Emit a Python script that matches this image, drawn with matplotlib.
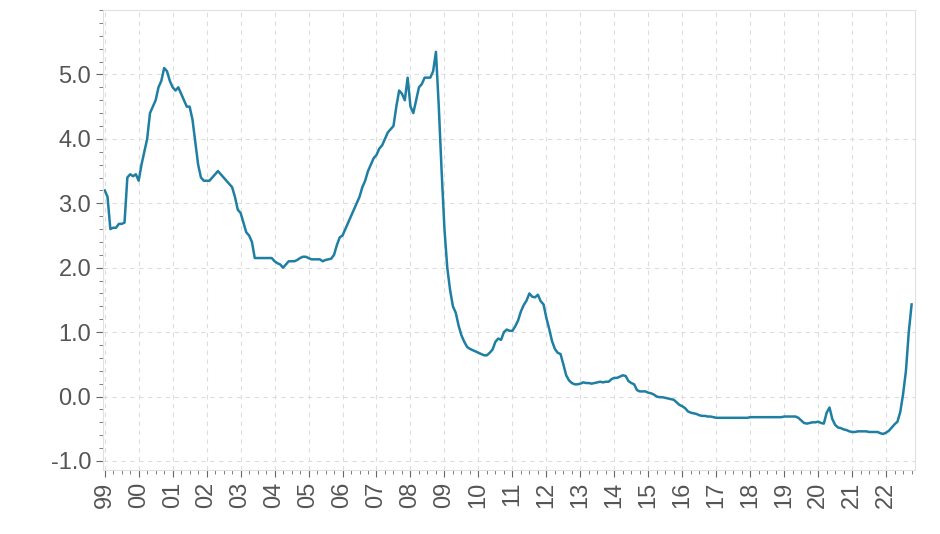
import matplotlib
matplotlib.use("Agg")
import matplotlib.pyplot as plt
import numpy as np
from matplotlib.ticker import MultipleLocator

plt.rcParams['font.family'] = ['Liberation Sans', 'DejaVu Sans']

years = list(range(1999, 2023))
values = {
1999: [3.2, 3.1, 2.6, 2.62, 2.62, 2.68, 2.68, 2.7, 3.4, 3.45, 3.42, 3.45],
2000: [3.35, 3.6, 3.8, 4.0, 4.4, 4.5, 4.6, 4.8, 4.9, 5.1, 5.05, 4.9],
2001: [4.8, 4.75, 4.8, 4.7, 4.6, 4.5, 4.5, 4.3, 3.95, 3.6, 3.4, 3.35],
2002: [3.35, 3.35, 3.4, 3.45, 3.5, 3.45, 3.4, 3.35, 3.3, 3.25, 3.1, 2.9],
2003: [2.85, 2.7, 2.55, 2.5, 2.4, 2.15, 2.15, 2.15, 2.15, 2.15, 2.15, 2.15],
2004: [2.1, 2.07, 2.05, 2.0, 2.05, 2.1, 2.1, 2.1, 2.12, 2.15, 2.17, 2.17],
2005: [2.15, 2.13, 2.13, 2.13, 2.13, 2.1, 2.12, 2.13, 2.14, 2.2, 2.35, 2.47],
2006: [2.5, 2.6, 2.7, 2.8, 2.9, 3.0, 3.1, 3.25, 3.35, 3.5, 3.6, 3.7],
2007: [3.75, 3.85, 3.9, 4.0, 4.1, 4.15, 4.2, 4.5, 4.75, 4.7, 4.6, 4.95],
2008: [4.5, 4.4, 4.6, 4.8, 4.85, 4.95, 4.95, 4.95, 5.05, 5.35, 4.5, 3.5],
2009: [2.6, 2.0, 1.65, 1.4, 1.3, 1.1, 0.95, 0.85, 0.77, 0.74, 0.72, 0.70],
2010: [0.68, 0.66, 0.64, 0.64, 0.68, 0.73, 0.85, 0.9, 0.88, 1.0, 1.04, 1.02],
2011: [1.02, 1.09, 1.18, 1.32, 1.42, 1.49, 1.6, 1.55, 1.54, 1.58, 1.48, 1.43],
2012: [1.22, 1.05, 0.86, 0.74, 0.68, 0.66, 0.5, 0.33, 0.25, 0.21, 0.19, 0.19],
2013: [0.2, 0.22, 0.21, 0.21, 0.2, 0.21, 0.22, 0.23, 0.22, 0.23, 0.23, 0.27],
2014: [0.29, 0.29, 0.31, 0.33, 0.32, 0.24, 0.21, 0.19, 0.1, 0.08, 0.08, 0.08],
2015: [0.06, 0.05, 0.03, 0.0, -0.01, -0.01, -0.02, -0.03, -0.04, -0.05, -0.09, -0.13],
2016: [-0.15, -0.18, -0.23, -0.25, -0.26, -0.27, -0.29, -0.3, -0.3, -0.31, -0.31, -0.32],
2017: [-0.33] * 12,
2018: [-0.32] * 12,
2019: [-0.31, -0.31, -0.31, -0.31, -0.31, -0.33, -0.37, -0.41, -0.42, -0.41, -0.40, -0.40],
2020: [-0.39, -0.41, -0.42, -0.25, -0.17, -0.35, -0.44, -0.48, -0.49, -0.51, -0.52, -0.54],
2021: [-0.55, -0.55, -0.54, -0.54, -0.54, -0.54, -0.55, -0.55, -0.55, -0.55, -0.57, -0.58],
2022: [-0.56, -0.53, -0.48, -0.43, -0.39, -0.24, 0.04, 0.4, 1.0, 1.43],
}
tick_labels = [f"{y % 100:02d}" for y in years]

x, yv = [], []
for yr in years:
    for m, v in enumerate(values[yr]):
        x.append(yr + m / 12)
        yv.append(v)

fig = plt.figure(figsize=(9.4, 5.34), dpi=100)
ax = fig.add_axes([103 / 940, 64 / 534, 812 / 940, 460 / 534])
ax.plot(x, yv, color="#1f7fa3", lw=1.8)
ax.set_xlim(1998.95, 2022.85)
ax.set_ylim(-1.14, 6.0)
ax.set_xticks(years)
ax.set_xticklabels(tick_labels, rotation=90)
ax.xaxis.set_minor_locator(MultipleLocator(0.25))
ax.set_yticks(np.arange(-1, 6, 1.0))
ax.set_yticklabels([f"{v:.1f}" for v in np.arange(-1, 6, 1.0)])
ax.yaxis.set_minor_locator(MultipleLocator(0.2))
ax.grid(True, which="major", color="#dddddd", ls=(0, (4, 4)), lw=0.8)
for s in ax.spines.values():
    s.set_color("#e0e0e0")
ax.tick_params(which="major", length=5, color="#666666", labelsize=17, labelcolor="#555555")
ax.tick_params(which="minor", length=3, color="#666666")
fig.savefig("out.png", dpi=100)
